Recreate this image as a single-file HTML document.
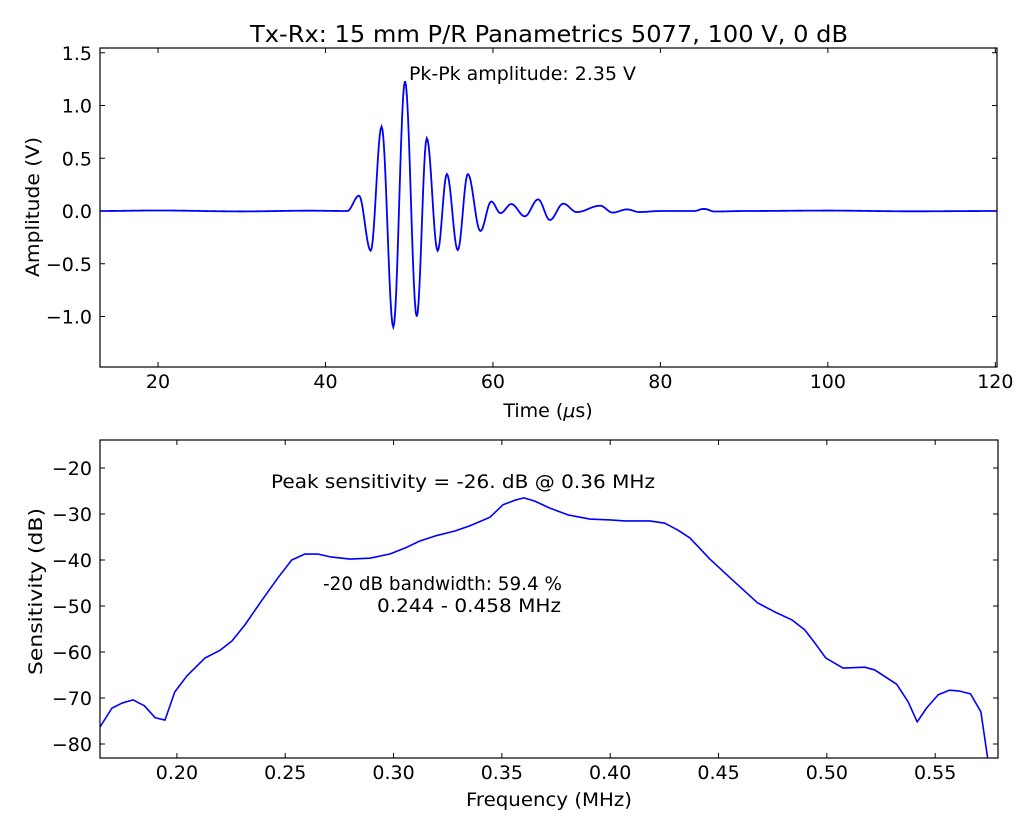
<!DOCTYPE html>
<html><head><meta charset="utf-8"><style>
html,body{margin:0;padding:0;background:#fff;width:1024px;height:819px;overflow:hidden}
svg{display:block;font-family:"DejaVu Sans","Liberation Sans",sans-serif}
</style></head><body>
<svg id="chart" width="1024" height="819" viewBox="0 0 1024 819" xmlns="http://www.w3.org/2000/svg">
<text x="250" y="42" font-size="23" textLength="598" lengthAdjust="spacingAndGlyphs" fill="#000">Tx-Rx: 15 mm P/R Panametrics 5077, 100 V, 0 dB</text>
<text x="548" y="417" font-size="19" text-anchor="middle">Time (<tspan font-style="italic">μ</tspan>s)</text>
<text transform="translate(39,277) rotate(-90)" font-size="19" textLength="140" lengthAdjust="spacingAndGlyphs">Amplitude (V)</text>
<text x="466" y="806" font-size="19" textLength="166" lengthAdjust="spacingAndGlyphs">Frequency (MHz)</text>
<text transform="translate(42,675) rotate(-90)" font-size="19" textLength="167" lengthAdjust="spacingAndGlyphs">Sensitivity (dB)</text>
<text x="409" y="80" font-size="19" textLength="227" lengthAdjust="spacingAndGlyphs">Pk-Pk amplitude: 2.35 V</text>
<text x="271" y="488" font-size="19" textLength="384" lengthAdjust="spacingAndGlyphs">Peak sensitivity = -26. dB @ 0.36 MHz</text>
<text x="323" y="590" font-size="19" textLength="239" lengthAdjust="spacingAndGlyphs">-20 dB bandwidth: 59.4 %</text>
<text x="377" y="612" font-size="19" textLength="184" lengthAdjust="spacingAndGlyphs">0.244 - 0.458 MHz</text>
<g id="g"></g>
</svg>
<script>
// Top chart data
const timeUs = [13.07,20,30,38,42.6,44.0,45.4,46.7,48.1,49.5,50.9,52.1,53.4,54.5,55.8,57.0,58.5,59.8,60.9,62.2,63.8,65.4,66.8,68.4,70.0,72.8,74.3,76.0,77.5,80,84,85.2,86.5,90,100,110,120.2];
const amplitudeV = [0,0.005,-0.004,0.003,0,0.145,-0.376,0.80,-1.10,1.23,-1.00,0.69,-0.376,0.35,-0.37,0.35,-0.19,0.09,-0.02,0.066,-0.05,0.11,-0.085,0.07,-0.01,0.05,-0.015,0.015,-0.01,0.0,0,0.02,-0.005,0,0.004,-0.003,0];
const topXTicks = [20,40,60,80,100,120];
const topYTicks = [-1.0,-0.5,0.0,0.5,1.0,1.5];
// Bottom chart data
const freqMHz = [0.1645,0.170,0.1747,0.1797,0.185,0.19,0.1945,0.199,0.2046,0.213,0.22,0.2254,0.2314,0.2393,0.2466,0.253,0.2591,0.265,0.2706,0.2799,0.289,0.2983,0.3053,0.312,0.319,0.3283,0.335,0.3445,0.3505,0.356,0.3602,0.3652,0.372,0.3805,0.3906,0.40,0.4068,0.4183,0.4252,0.4312,0.4368,0.446,0.4575,0.468,0.476,0.4838,0.4898,0.4944,0.4995,0.5027,0.5075,0.5175,0.5221,0.5322,0.5375,0.5417,0.546,0.5514,0.5567,0.5613,0.5663,0.5711,0.5742,0.576];
const sensitivityDb = [-76.3,-72.2,-71.1,-70.4,-71.7,-74.3,-74.8,-68.7,-65.2,-61.3,-59.6,-57.6,-54.1,-48.7,-43.9,-40,-38.7,-38.7,-39.3,-39.8,-39.6,-38.7,-37.4,-35.9,-34.8,-33.7,-32.6,-30.7,-28,-27,-26.5,-27.2,-28.7,-30.2,-31.1,-31.3,-31.5,-31.5,-32,-33.5,-35.2,-39.8,-44.8,-49.3,-51.3,-53,-55.2,-58,-61.3,-62.2,-63.5,-63.3,-63.9,-67,-70.8,-75.2,-72.2,-69.3,-68.3,-68.5,-69.1,-73,-83,-92];
const botXTicks = [0.20,0.25,0.30,0.35,0.40,0.45,0.50,0.55];
const botYTicks = [-80,-70,-60,-50,-40,-30,-20];
const botXLabels = ["0.20","0.25","0.30","0.35","0.40","0.45","0.50","0.55"];

const NS="http://www.w3.org/2000/svg";
const G=document.getElementById('g');
function mk(t,a){const e=document.createElementNS(NS,t);for(const k in a)e.setAttribute(k,a[k]);G.appendChild(e);return e;}
function lin(d0,d1,r0,r1){return v=>r0+(v-d0)/(d1-d0)*(r1-r0);}
const T={L:100,R:997,T:48,B:367}, B={L:100,R:998,T:440,B:758};
const tx=lin(13.07,120.2,T.L,T.R), ty=lin(0,1,211,105.5);
const bx=lin(0.1645,0.579,B.L,B.R), by=lin(-20,-30,468,514);
function fmt(v){return (v<0?'\u2212':'')+Math.abs(v).toFixed(1);}

function axes(P,name,xt,xs,xl,yt,ys,yl){
  const clip=mk('clipPath',{id:'clip-'+name});
  const r=document.createElementNS(NS,'rect');r.setAttribute('x',P.L);r.setAttribute('y',P.T);r.setAttribute('width',P.R-P.L);r.setAttribute('height',P.B-P.T);clip.appendChild(r);
  xt.forEach((v,i)=>{const x=xs(v);
    const t1=mk('line',{x1:x,x2:x,y1:P.B,y2:P.B-5,stroke:'#000'});
    
    
    mk('line',{x1:x,x2:x,y1:P.T,y2:P.T+5,stroke:'#000'});
    const l=mk('text',{x:x,y:P.B+21,'font-size':19,'text-anchor':'middle'});l.textContent=xl[i];
    
    
  });
  yt.forEach((v,i)=>{const y=ys(v);
    const t1=mk('line',{x1:P.L,x2:P.L+5,y1:y,y2:y,stroke:'#000'});
    
    
    mk('line',{x1:P.R,x2:P.R-5,y1:y,y2:y,stroke:'#000'});
    const l=mk('text',{x:P.L-8,y:y+7,'font-size':19,'text-anchor':'end'});l.textContent=yl[i];
    
    
  });
}
axes(T,'top',topXTicks,tx,topXTicks.map(String),topYTicks,ty,topYTicks.map(fmt));
axes(B,'bottom',botXTicks,bx,botXLabels,botYTicks,by,botYTicks.map(v=>(v<0?'\u2212':'')+Math.abs(v)));

let d='';
for(let i=0;i<timeUs.length-1;i++){
  const t0=timeUs[i],t1=timeUs[i+1],a0=amplitudeV[i],a1=amplitudeV[i+1];
  const n=Math.max(4,Math.ceil((tx(t1)-tx(t0))));
  for(let k=(i?1:0);k<=n;k++){const s=k/n;const t=t0+(t1-t0)*s;const a=a0+(a1-a0)*(1-Math.cos(Math.PI*s))/2;
    d+=(d?'L':'M')+tx(t).toFixed(2)+','+ty(a).toFixed(2);}
}
const w=mk('path',{d:d,fill:'none',stroke:'#0000ff','stroke-width':1.8,'clip-path':'url(#clip-top)'});



let d2=freqMHz.map((f,i)=>(i?'L':'M')+bx(f).toFixed(2)+','+by(sensitivityDb[i]).toFixed(2)).join('');
const s=mk('path',{d:d2,fill:'none',stroke:'#0000ff','stroke-width':1.6,'stroke-linejoin':'round','clip-path':'url(#clip-bottom)'});



[T,B].forEach((P,i)=>{const f=mk('rect',{x:P.L,y:P.T,width:P.R-P.L,height:P.B-P.T,fill:'none',stroke:'#000','stroke-width':1.2});
  
  });
</script>
</body></html>
